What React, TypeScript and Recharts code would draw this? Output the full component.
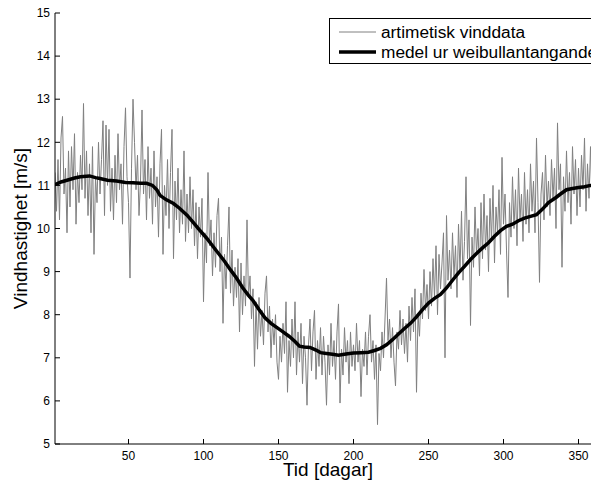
import React from 'react';
import { LineChart, Line, XAxis, YAxis, Legend } from 'recharts';

// Daily wind data (day 1..365), m/s
const windValues: number[] = [
  11.3, 10.4, 11.6, 10.2, 12.1, 12.6, 10.8, 11.4, 9.9, 11.8,
  10.5, 11.9, 10.9, 12.2, 10.1, 11.3, 10.6, 11.7, 10.9, 12.9,
  10.7, 11.8, 10.3, 11.5, 9.9, 11.9, 9.4, 11.2, 10.6, 12.0,
  10.8, 11.6, 12.5, 10.3, 12.4, 11.0, 12.3, 10.4, 11.4, 10.2,
  11.7, 10.6, 12.2, 10.9, 11.5, 10.1, 11.9, 12.8, 11.2, 10.6,
  8.85, 11.4, 13.0, 12.0, 10.9, 11.7, 10.3, 11.1, 12.75, 10.8,
  11.6, 10.2, 11.9, 10.7, 11.4, 10.1, 11.8, 10.5, 11.2, 9.8,
  11.5, 12.3, 9.4, 11.0, 10.3, 11.6, 10.0, 11.3, 12.3, 9.3,
  11.1, 10.2, 11.4, 9.9, 10.9, 10.1, 11.8, 9.7, 10.8, 9.9,
  11.2, 10.0, 10.9, 9.6, 10.6, 9.3, 10.5, 9.8, 10.7, 8.3,
  9.9, 9.2, 11.3, 9.6, 10.2, 8.9, 9.9, 9.1, 10.3, 10.7,
  9.0, 9.8, 7.8, 9.4, 8.6, 9.6, 10.5, 8.5, 9.5, 8.2,
  9.1, 8.4, 9.3, 7.6, 9.2, 8.0, 8.9, 8.2, 10.2, 8.4,
  8.9, 7.9, 8.6, 6.8, 8.3, 7.2, 8.4, 7.5, 8.1, 7.3,
  8.5, 8.9, 7.6, 8.2, 7.0, 7.9, 7.3, 8.0, 6.9, 6.5,
  7.5, 6.9, 7.8, 7.1, 8.3, 6.2, 7.4, 6.8, 7.9, 7.0,
  8.3, 6.6, 7.6, 6.9, 7.8, 6.4, 7.5, 7.0, 5.9, 7.3,
  7.9, 6.7, 7.6, 8.1, 6.5, 7.4, 6.8, 7.7, 6.6, 7.5,
  6.9, 5.9, 7.3, 6.6, 7.8, 6.8, 7.4, 6.5, 7.6, 8.25,
  5.95, 7.2, 6.6, 7.7, 6.9, 7.4, 6.4, 7.6, 6.8, 7.3,
  6.7, 7.8, 6.9, 7.4, 6.1, 7.2, 6.8, 7.6, 6.6, 7.5,
  8.0, 6.9, 7.4, 6.5, 7.3, 5.45, 7.1, 6.7, 7.6, 7.0,
  7.9, 8.85, 7.4, 7.9, 7.0, 7.7, 6.9, 6.35, 7.6, 7.2,
  8.1, 7.3, 7.9, 7.1, 7.8, 6.9, 8.2, 7.4, 8.4, 7.6,
  8.6, 6.2, 8.0, 7.5, 8.5, 7.9, 9.05, 8.1, 8.7, 7.9,
  9.0, 8.2, 9.3, 8.4, 9.6, 8.0, 9.4, 8.6, 9.2, 9.9,
  7.0, 10.3, 8.8, 9.5, 8.6, 9.9, 8.9, 9.6, 8.4, 10.1,
  9.0, 10.4, 8.8, 9.7, 11.2, 9.3, 10.2, 7.75, 9.8, 9.1,
  10.5, 9.4, 10.0, 8.9, 10.6, 9.3, 10.8, 9.5, 10.3, 9.0,
  10.7, 9.7, 11.0, 9.2, 10.5, 9.9, 10.9, 9.4, 11.65, 10.1,
  10.8, 9.5, 8.4, 10.6, 9.8, 11.2, 10.0, 10.9, 9.6, 11.4,
  10.2, 10.8, 9.7, 11.3, 10.1, 10.9, 9.9, 11.5, 10.4, 11.1,
  9.9, 12.1, 10.6, 8.75, 10.8, 11.3, 10.2, 11.7, 10.5, 11.1,
  10.3, 11.6, 10.7, 11.4, 10.0, 12.45, 10.9, 11.5, 9.1, 11.2,
  10.4, 11.8, 10.6, 11.3, 10.1, 11.9, 10.8, 11.6, 10.3, 11.4,
  10.5, 11.7, 10.9, 12.1, 10.4, 11.5, 10.7, 11.9, 10.6, 11.3,
  10.2, 11.6, 10.9, 11.4, 10.8,
];

// Mean from Weibull assumption
const meanDays: number[] = [
  1, 5, 9, 14, 18, 24, 28, 31, 36, 42, 48, 53, 58, 62, 66, 69, 71, 75, 80, 84,
  89, 93, 97, 102, 106, 110, 114, 118, 122, 126, 130, 133, 137, 141, 145, 149, 153, 157, 161, 164,
  167, 171, 175, 178, 182, 186, 190, 195, 200, 205, 210, 214, 218, 222, 226, 230, 234, 238, 242, 246,
  250, 254, 258, 262, 266, 270, 274, 278, 282, 286, 290, 294, 298, 302, 306, 310, 314, 318, 322, 326,
  330, 335, 338, 342, 346, 350, 354, 358, 362, 365,
];
const meanValues: number[] = [
  11.02, 11.08, 11.12, 11.17, 11.2, 11.22, 11.18, 11.16, 11.12, 11.1, 11.07, 11.06, 11.05, 11.05, 11.0, 10.89, 10.77, 10.67, 10.58, 10.47,
  10.31, 10.15, 9.98, 9.78, 9.6, 9.42, 9.24, 9.04, 8.85, 8.63, 8.45, 8.33, 8.12, 7.93, 7.8, 7.7, 7.6, 7.5, 7.38, 7.27,
  7.25, 7.24, 7.18, 7.12, 7.1, 7.08, 7.06, 7.09, 7.11, 7.12, 7.13, 7.17, 7.22, 7.3, 7.42, 7.55, 7.68, 7.8, 7.95, 8.12,
  8.27, 8.38, 8.47, 8.62, 8.8, 8.97, 9.12, 9.28, 9.42, 9.55, 9.67, 9.82, 9.95, 10.05, 10.1, 10.18, 10.24, 10.28, 10.32, 10.45,
  10.6, 10.72, 10.8, 10.9, 10.93, 10.95, 10.97, 11.0, 11.0, 11.05,
];

const xTicks: number[] = [50, 100, 150, 200, 250, 300, 350];
const yTicks: number[] = [5, 6, 7, 8, 9, 10, 11, 12, 13, 14, 15];
const seriesNames: string[] = ['artimetisk vinddata', 'medel ur weibullantangande'];
const xLabel = 'Tid [dagar]';
const yLabel = 'Vindhastighet [m/s]';

const windData = windValues.map((v, i) => ({ day: i + 1, wind: v }));
const meanData = meanDays.map((d, i) => ({ day: d, mean: meanValues[i] }));

const FONT = '"Liberation Sans", Arial, Helvetica, sans-serif';

const LegendBox = () => (
  <div
    style={{
      border: '1px solid #000',
      background: '#fff',
      padding: '3px 0 1px 0',
      fontFamily: FONT,
      fontSize: 17.3,
      color: '#000',
      boxSizing: 'content-box',
    }}
  >
    {seriesNames.map((name, i) => (
      <div key={name} style={{ display: 'flex', alignItems: 'center', height: 20, whiteSpace: 'nowrap' }}>
        <svg width={46} height={20} style={{ flex: 'none' }}>
          <line
            x1={9}
            x2={46}
            y1={10}
            y2={10}
            stroke={i === 0 ? '#808080' : '#000'}
            strokeWidth={i === 0 ? 1 : 3.5}
          />
        </svg>
        <span style={{ marginLeft: 5 }}>{name}</span>
      </div>
    ))}
  </div>
);

export default function App() {
  return (
    <div
      style={{
        position: 'fixed',
        left: 0,
        top: 0,
        width: 591,
        height: 483,
        overflow: 'hidden',
        background: '#fff',
      }}
    >
      <LineChart
        width={620}
        height={483}
        margin={{ top: 13, right: 19, bottom: 0, left: 15 }}
      >
        <XAxis
          xAxisId="bottom"
          dataKey="day"
          type="number"
          domain={[1, 365]}
          ticks={xTicks}
          allowDataOverflow
          height={39}
          stroke="#000"
          tickSize={-5}
          tickMargin={12}
          tick={{ fill: '#000', fontSize: 12, fontFamily: FONT }}
          label={(props: any) => {
            const vb = props.viewBox || {};
            return (
              <text
                x={vb.x + vb.width / 2}
                y={475.5}
                textAnchor="middle"
                fontFamily={FONT}
                fontSize={19}
                fill="#000"
              >
                {xLabel}
              </text>
            );
          }}
        />
        <XAxis
          xAxisId="top"
          dataKey="day"
          type="number"
          orientation="top"
          domain={[1, 365]}
          ticks={xTicks}
          allowDataOverflow
          height={0}
          stroke="#000"
          tickSize={-5}
          tickFormatter={() => ''}
        />
        <YAxis
          yAxisId="left"
          type="number"
          domain={[5, 15]}
          ticks={yTicks}
          allowDataOverflow
          width={40}
          stroke="#000"
          tickSize={-5}
          tickMargin={10}
          tick={{ fill: '#000', fontSize: 12, fontFamily: FONT }}
          label={(props: any) => {
            const vb = props.viewBox || {};
            const cy = vb.y + vb.height / 2;
            return (
              <text
                x={27}
                y={cy}
                transform={`rotate(-90, 27, ${cy})`}
                textAnchor="middle"
                fontFamily={FONT}
                fontSize={19}
                fill="#000"
              >
                {yLabel}
              </text>
            );
          }}
        />
        <Line
          xAxisId="bottom"
          yAxisId="left"
          data={windData}
          dataKey="wind"
          name={seriesNames[0]}
          type="linear"
          stroke="#808080"
          strokeWidth={1}
          dot={false}
          isAnimationActive={false}
        />
        <Line
          xAxisId="bottom"
          yAxisId="left"
          data={meanData}
          dataKey="mean"
          name={seriesNames[1]}
          type="linear"
          stroke="#000"
          strokeWidth={3.5}
          dot={false}
          isAnimationActive={false}
        />
        <Legend
          layout="vertical"
          align="center"
          verticalAlign="middle"
          content={() => <LegendBox />}
          wrapperStyle={{ left: 329, top: 18, width: 290, right: 'auto', bottom: 'auto' }}
        />
      </LineChart>
    </div>
  );
}
